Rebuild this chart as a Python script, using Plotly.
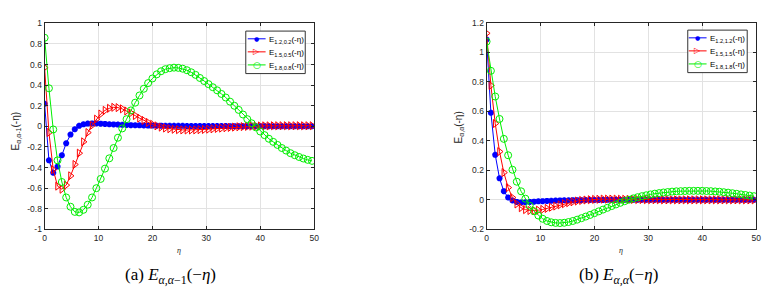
import plotly.graph_objects as go

W, H = 776, 294

eta = [0.0, 0.8, 1.6, 2.4, 3.2, 4.0, 4.8, 5.6, 6.4, 7.2,
       8.0, 8.8, 9.6, 10.4, 11.2, 12.0, 12.8, 13.6, 14.4, 15.2,
       16.0, 16.8, 17.6, 18.4, 19.2, 20.0, 20.8, 21.6, 22.4, 23.2,
       24.0, 24.8, 25.6, 26.4, 27.2, 28.0, 28.8, 29.6, 30.4, 31.2,
       32.0, 32.8, 33.6, 34.4, 35.2, 36.0, 36.8, 37.6, 38.4, 39.2,
       40.0, 40.8, 41.6, 42.4, 43.2, 44.0, 44.8, 45.6, 46.4, 47.2,
       48.0, 48.8, 49.6]

# (a) E_{alpha,alpha-1}(-eta)
a_12_02 = [0.22, -0.33, -0.45, -0.39, -0.28, -0.165, -0.08, -0.028, 0.005, 0.02,
           0.027, 0.029, 0.028, 0.026, 0.024, 0.021, 0.019, 0.017, 0.015, 0.013,
           0.012, 0.011, 0.010, 0.009, 0.008, 0.008, 0.007, 0.007, 0.006, 0.006,
           0.005, 0.005, 0.005, 0.004, 0.004, 0.004, 0.004, 0.003, 0.003, 0.003,
           0.003, 0.003, 0.003, 0.002, 0.002, 0.002, 0.002, 0.002, 0.002, 0.002,
           0.002, 0.002, 0.002, 0.001, 0.001, 0.001, 0.001, 0.001, 0.001, 0.001,
           0.001, 0.001, 0.001]
a_15_05 = [0.57, -0.06, -0.42, -0.58, -0.61, -0.57, -0.48, -0.37, -0.26, -0.15,
           -0.06, 0.01, 0.07, 0.12, 0.155, 0.175, 0.185, 0.182, 0.17, 0.15,
           0.13, 0.105, 0.08, 0.058, 0.038, 0.02, 0.005, -0.007, -0.016, -0.023,
           -0.028, -0.032, -0.034, -0.035, -0.035, -0.034, -0.032, -0.030, -0.027, -0.024,
           -0.020, -0.017, -0.013, -0.010, -0.007, -0.004, -0.002, 0.0, 0.002, 0.003,
           0.004, 0.005, 0.005, 0.006, 0.006, 0.006, 0.006, 0.006, 0.006, 0.006,
           0.006, 0.006, 0.006]
a_18_08 = [0.86, 0.37, -0.03, -0.33, -0.54, -0.69, -0.78, -0.83, -0.835, -0.81,
           -0.76, -0.69, -0.60, -0.51, -0.41, -0.31, -0.21, -0.11, -0.02, 0.07,
           0.155, 0.23, 0.30, 0.365, 0.42, 0.465, 0.505, 0.535, 0.555, 0.565,
           0.57, 0.568, 0.56, 0.545, 0.525, 0.50, 0.47, 0.44, 0.41, 0.38,
           0.35, 0.315, 0.28, 0.24, 0.20, 0.16, 0.115, 0.07, 0.03, -0.01,
           -0.05, -0.085, -0.12, -0.15, -0.18, -0.21, -0.235, -0.26, -0.28, -0.297,
           -0.312, -0.325, -0.335]

# (b) E_{alpha,alpha}(-eta)
b_12_12 = [1.086, 0.59, 0.305, 0.146, 0.059, 0.016, -0.004, -0.014, -0.017, -0.016,
           -0.014, -0.012, -0.010, -0.009, -0.007, -0.006, -0.005, -0.004, -0.003, -0.003,
           -0.002, -0.002, -0.002, -0.001, -0.001, -0.001, -0.001, -0.001, 0.0, 0.0,
           0.0, 0.0, 0.0, 0.0, 0.0, 0.0, 0.0, 0.0, 0.0, 0.0,
           0.0, 0.0, 0.0, 0.0, 0.0, 0.0, 0.0, 0.0, 0.0, 0.0,
           0.0, 0.0, 0.0, 0.0, 0.0, 0.0, 0.0, 0.0, 0.0, 0.0,
           0.0, 0.0, 0.0]
b_15_15 = [1.128, 0.775, 0.517, 0.327, 0.185, 0.083, 0.015, -0.028, -0.053, -0.066,
           -0.072, -0.073, -0.070, -0.065, -0.058, -0.050, -0.042, -0.034, -0.026, -0.019,
           -0.013, -0.008, -0.004, -0.001, 0.001, 0.003, 0.004, 0.005, 0.005, 0.005,
           0.005, 0.004, 0.004, 0.003, 0.003, 0.002, 0.002, 0.001, 0.001, 0.001,
           0.001, 0.0, 0.0, 0.0, 0.0, 0.0, 0.0, 0.0, 0.0, 0.0,
           0.0, 0.0, 0.0, 0.0, 0.0, 0.0, 0.0, 0.0, 0.0, 0.0,
           0.0, 0.0, 0.0]
b_18_18 = [1.072, 0.874, 0.70, 0.548, 0.413, 0.302, 0.204, 0.123, 0.058, 0.008,
           -0.04, -0.077, -0.106, -0.128, -0.143, -0.152, -0.156, -0.157, -0.155, -0.150,
           -0.143, -0.134, -0.124, -0.113, -0.102, -0.090, -0.078, -0.066, -0.054, -0.042,
           -0.031, -0.020, -0.009, 0.001, 0.010, 0.018, 0.025, 0.031, 0.037, 0.042,
           0.046, 0.050, 0.053, 0.056, 0.058, 0.059, 0.060, 0.061, 0.061, 0.061,
           0.061, 0.060, 0.059, 0.057, 0.055, 0.052, 0.049, 0.045, 0.041, 0.037,
           0.033, 0.029, 0.025]

x_ticks = [0, 10, 20, 30, 40, 50]
x_ticktext = ["0", "10", "20", "30", "40", "50"]
ya_ticks = [-1, -0.8, -0.6, -0.4, -0.2, 0, 0.2, 0.4, 0.6, 0.8, 1]
ya_ticktext = ["-1", "-0.8", "-0.6", "-0.4", "-0.2", "0", "0.2", "0.4", "0.6", "0.8", "1"]
yb_ticks = [-0.2, 0, 0.2, 0.4, 0.6, 0.8, 1, 1.2]
yb_ticktext = ["-0.2", "0", "0.2", "0.4", "0.6", "0.8", "1", "1.2"]

names_a = ["E<sub>1.2,0.2</sub>(-η)", "E<sub>1.5,0.5</sub>(-η)", "E<sub>1.8,0.8</sub>(-η)"]
names_b = ["E<sub>1.2,1.2</sub>(-η)", "E<sub>1.5,1.5</sub>(-η)", "E<sub>1.8,1.8</sub>(-η)"]

BLUE, RED, GREEN = "#0000ff", "#ff0000", "#00ee00"
styles = [
    dict(color=BLUE, symbol="asterisk-open", size=5, lw=2, glyph="●", gsize=6),
    dict(color=RED, symbol="triangle-right-open", size=7, lw=1, glyph="▷", gsize=8),
    dict(color=GREEN, symbol="circle-open", size=7, lw=1, glyph="○", gsize=9),
]

fig = go.Figure()
for ys, nm, st in zip([a_12_02, a_15_05, a_18_08], names_a, styles):
    fig.add_trace(go.Scatter(
        x=eta, y=ys, name=nm, mode="lines+markers", xaxis="x", yaxis="y",
        line=dict(color=st["color"], width=1),
        marker=dict(symbol=st["symbol"], size=st["size"], color=st["color"],
                    line=dict(color=st["color"], width=st["lw"]))))
for ys, nm, st in zip([b_12_12, b_15_15, b_18_18], names_b, styles):
    fig.add_trace(go.Scatter(
        x=eta, y=ys, name=nm, mode="lines+markers", xaxis="x2", yaxis="y2",
        line=dict(color=st["color"], width=1),
        marker=dict(symbol=st["symbol"], size=st["size"], color=st["color"],
                    line=dict(color=st["color"], width=st["lw"]))))


def px(x):
    return x / W


def py(y):
    return 1 - y / H


axis_common = dict(showline=True, linecolor="#262626", linewidth=1, mirror="allticks",
                   ticks="inside", ticklen=3, tickcolor="#262626", showgrid=True,
                   gridcolor="#e2e2e2", gridwidth=1, zeroline=False,
                   tickfont=dict(family="Liberation Sans, Arial", size=8.5, color="#262626"))

fig.update_layout(
    width=W, height=H, margin=dict(l=0, r=0, t=0, b=0),
    paper_bgcolor="white", plot_bgcolor="white", showlegend=False,
    xaxis=dict(domain=[px(43), px(315)], range=[0, 50], tickvals=x_ticks, ticktext=x_ticktext,
               anchor="y", **axis_common),
    yaxis=dict(domain=[py(232.3), py(19)], range=[-1, 1], tickvals=ya_ticks, ticktext=ya_ticktext,
               anchor="x", **axis_common),
    xaxis2=dict(domain=[px(489), px(761)], range=[0, 50], tickvals=x_ticks, ticktext=x_ticktext,
                anchor="y2", **axis_common),
    yaxis2=dict(domain=[py(232.3), py(18.3)], range=[-0.2, 1.2], tickvals=yb_ticks,
                ticktext=yb_ticktext, anchor="x2", **axis_common),
)

# Manual, compact MATLAB-style legends (box, line samples, marker glyphs, labels)
legend_boxes = [(246, 27, 306, 71, names_a, 248, 266), (692, 26, 752, 70, names_b, 693, 711)]
for (x0, y0, x1, y1, names, lx0, lx1) in legend_boxes:
    fig.add_shape(type="rect", xref="paper", yref="paper", x0=px(x0), x1=px(x1),
                  y0=py(y1), y1=py(y0), line=dict(color="#333333", width=1),
                  fillcolor="white", layer="above")
    for i, (nm, st) in enumerate(zip(names, styles)):
        ry = y0 + 8 + i * 13.5
        fig.add_shape(type="line", xref="paper", yref="paper", x0=px(lx0), x1=px(lx1),
                      y0=py(ry), y1=py(ry), line=dict(color=st["color"], width=1),
                      layer="above")
        fig.add_annotation(xref="paper", yref="paper", x=px((lx0 + lx1) / 2), y=py(ry),
                           text=st["glyph"], showarrow=False, xanchor="center",
                           yanchor="middle",
                           font=dict(family="DejaVu Sans", size=st["gsize"], color=st["color"]))
        fig.add_annotation(xref="paper", yref="paper", x=px(lx1 + 1), y=py(ry + 1),
                           text=nm, showarrow=False, xanchor="left", yanchor="middle",
                           font=dict(family="Liberation Sans, Arial", size=8, color="black"))

annots = [
    dict(x=px(14), y=py(130), text="E<sub>α,α-1</sub>(-η)", textangle=-90,
         font=dict(family="Liberation Sans, Arial", size=10, color="#262626")),
    dict(x=px(461), y=py(127), text="E<sub>α,α</sub>(-η)", textangle=-90,
         font=dict(family="Liberation Sans, Arial", size=10, color="#262626")),
    dict(x=px(179), y=py(254), text="<i>η</i>",
         font=dict(family="Liberation Serif", size=8, color="#262626")),
    dict(x=px(625), y=py(254), text="<i>η</i>",
         font=dict(family="Liberation Serif", size=8, color="#262626")),
    dict(x=px(170), y=py(281), text="(a) <i>E</i><sub><i>α,α</i>−1</sub>(−<i>η</i>)",
         font=dict(family="Liberation Serif", size=17, color="black")),
    dict(x=px(622), y=py(281), text="(b) <i>E</i><sub><i>α,α</i></sub>(−<i>η</i>)",
         font=dict(family="Liberation Serif", size=17, color="black")),
]
for a in annots:
    fig.add_annotation(xref="paper", yref="paper", showarrow=False, xanchor="center",
                       yanchor="middle", **a)

fig.write_html("out.html", config={"displayModeBar": False},
               post_script="document.body.style.margin='0px';document.body.style.padding='0px';")
